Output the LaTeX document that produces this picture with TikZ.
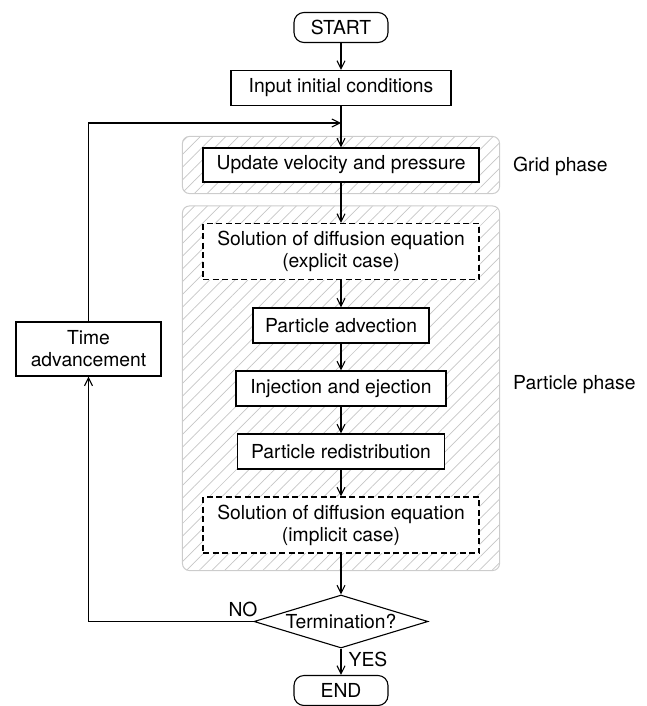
\documentclass[tikz,border=0pt]{standalone}
\usepackage{fontspec}
\setmainfont{TeX Gyre Heros}
\usetikzlibrary{arrows.meta,shapes.geometric,positioning,fit,backgrounds,patterns.meta}
\tikzset{
  basic/.style    = {draw, fill=white, line width=1.1pt, align=center, inner sep=0pt,
                     font=\fontsize{19.3}{22}\selectfont},
  terminal/.style = {basic, rounded corners=10pt, minimum width=94pt, minimum height=30pt},
  process/.style  = {basic, rectangle, minimum height=35pt},
  optional/.style = {process, dash pattern=on 6pt off 3.5pt, minimum width=276pt,
                     minimum height=56pt},
  decision/.style = {basic, diamond, aspect=3.28, minimum width=174pt, minimum height=53pt},
  phase/.style    = {draw=gray!40, line width=1pt, rounded corners=7pt,
                     pattern={Lines[angle=45,distance=9pt,line width=0.7pt]},
                     pattern color=gray!45},
  phasename/.style = {font=\fontsize{19.3}{22}\selectfont, anchor=west, inner sep=0pt},
  answer/.style   = {font=\fontsize{19.3}{22}\selectfont, inner sep=0pt},
  flow/.style     = {->, line width=1.1pt}
}

\begin{document}
\begin{tikzpicture}[x=1pt,y=-1pt,>={Straight Barb[length=8pt,width=8pt]}]
\useasboundingbox (0,0) rectangle (646,706);

% main column, top to bottom
\node[terminal] (start) at (341,27.5) {START};
\node[process, minimum width=220pt] (input) at (341,88) {Input initial conditions};
\node[process, minimum width=276pt, minimum height=34pt] (update) at (341,165) {Update velocity and pressure};
\node[optional] (expl) at (341,251.5) {Solution of diffusion equation\\(explicit case)};
\node[process, minimum width=176pt] (adv)   at (341,325.5) {Particle advection};
\node[process, minimum width=210pt] (inj)   at (341,388.5) {Injection and ejection};
\node[process, minimum width=207pt] (redis) at (341,451.5) {Particle redistribution};
\node[optional] (impl) at (341,525) {Solution of diffusion equation\\(implicit case)};
\node[decision] (term) at (341,621.5) {Termination?};
\node[terminal] (end) at (341,690.5) {END};

% loop back
\node[process, minimum width=145pt, minimum height=54pt] (time) at (88.5,349) {Time\\advancement};
\coordinate (merge) at (341,123);

% hatched phases
\begin{scope}[on background layer]
  \node[phase, fit=(update), inner xsep=20pt, inner ysep=11pt] (grid) {};
  \node[phase, fit=(expl)(impl), inner xsep=20pt, inner ysep=17pt] (particle) {};
\end{scope}
\node[phasename] (gridname) at (513,166) {Grid phase};
\node[phasename] (particlename) at (513,385) {Particle phase};

\node[answer] (no)  at (243,609) {NO};
\node[answer] (yes) at (368,659) {YES};

\draw[flow] (start) -- (input);
\draw[flow] (input) -- (update);
\foreach \from/\to in {update/expl, expl/adv, adv/inj, inj/redis, redis/impl, impl/term, term/end}
  \draw[flow] (\from) -- (\to);

\draw[flow] (term.west) -| (time.south);
\draw[flow] (time.north) |- (merge);

\end{tikzpicture}
\end{document}
